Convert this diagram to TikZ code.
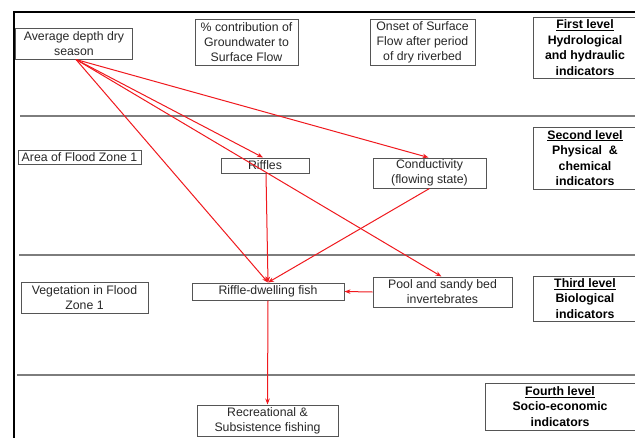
\documentclass[tikz,border=0pt]{standalone}
\usepackage{fontspec}
\setmainfont{Liberation Sans}
\usetikzlibrary{arrows.meta}
\definecolor{linered}{RGB}{240,25,30}
\definecolor{boxgray}{RGB}{85,85,85}
\definecolor{sepgray}{RGB}{125,125,125}
\definecolor{txtgray}{RGB}{40,40,40}
\tikzset{
  ind/.style={draw=boxgray, line width=1pt, inner sep=0pt, align=center,
    text=txtgray, font=\fontsize{12.3}{15}\selectfont},
  lvl/.style={draw=boxgray, line width=1pt, inner sep=0pt, align=center,
    text=black, font=\fontsize{12.3}{15.5}\selectfont\bfseries},
  conn/.style={draw=linered, line width=1pt, -{Stealth[length=6pt,width=4.5pt]}},
  sep/.style={draw=sepgray, line width=2pt}
}
\begin{document}
\begin{tikzpicture}[x=1pt,y=-1pt]
\useasboundingbox (0,0) rectangle (635,437);
\clip (0,0) rectangle (635,437);
\fill[white] (0,0) rectangle (635,437);
% frame
\draw[black, line width=1.4pt] (14,445) -- (14,12) -- (645,12);
% separators
\draw[sep] (20,115.5) -- (645,115.5);
\draw[sep] (19,255) -- (645,255);
\draw[sep] (17,374.5) -- (645,374.5);
% first level
\node[ind, minimum width=117pt, minimum height=31pt] (avg) at (74,43.5) {Average depth dry\\season};
\node[ind, minimum width=103pt, minimum height=46pt] (gw) at (246.5,42) {\% contribution of\\Groundwater to\\Surface Flow};
\node[ind, minimum width=105pt, minimum height=46pt] (onset) at (422.5,42) {Onset of Surface\\Flow after period\\of dry riverbed};
\node[lvl, minimum width=104pt, minimum height=61pt] (l1) at (585,47.5) {\underline{First level}\\Hydrological\\and hydraulic\\indicators};
% second level
\node[ind, minimum width=123pt, minimum height=14pt] (area) at (79.5,157) {Area of Flood Zone 1};
\node[ind, minimum width=88pt, minimum height=15pt] (riffles) at (265,165.5) {Riffles};
\node[ind, minimum width=113pt, minimum height=30pt] (cond) at (429.5,173) {Conductivity\\(flowing state)};
\node[lvl, minimum width=104pt, minimum height=62pt] (l2) at (585,158) {\underline{Second level}\\Physical~~\&\\chemical\\indicators};
% third level
\node[ind, minimum width=127pt, minimum height=31pt] (veg) at (84.5,297.5) {Vegetation in Flood\\Zone 1};
\node[ind, minimum width=152pt, minimum height=17pt] (fish) at (268,291.5) {Riffle-dwelling fish};
\node[ind, minimum width=139pt, minimum height=30pt] (pool) at (442.5,292) {Pool and sandy bed\\invertebrates};
\node[lvl, minimum width=104pt, minimum height=45pt] (l3) at (585,298.5) {\underline{Third level}\\Biological\\indicators};
% fourth level
\node[ind, minimum width=141pt, minimum height=31pt] (rec) at (267.5,420.5) {Recreational \&\\Subsistence fishing};
\node[lvl, minimum width=150pt, minimum height=47pt] (l4) at (560,406.5) {\underline{Fourth level}\\Socio-economic\\indicators};
% connectors
\draw[conn] ([xshift=2pt]avg.south) -- ([xshift=-2pt]riffles.north);
\draw[conn] ([xshift=2pt]avg.south) -- ([xshift=-1pt]cond.north);
\draw[conn] ([xshift=2pt]avg.south) -- ([xshift=-1pt]pool.north);
\draw[conn] ([xshift=2pt]avg.south) -- (fish.north);
\draw[conn] ([xshift=1pt]riffles.south) -- (fish.north);
\draw[conn] (cond.south) -- (fish.north);
\draw[conn] (pool.west) -- (fish.east);
\draw[conn] (fish.south) -- (rec.north);
\end{tikzpicture}
\end{document}
